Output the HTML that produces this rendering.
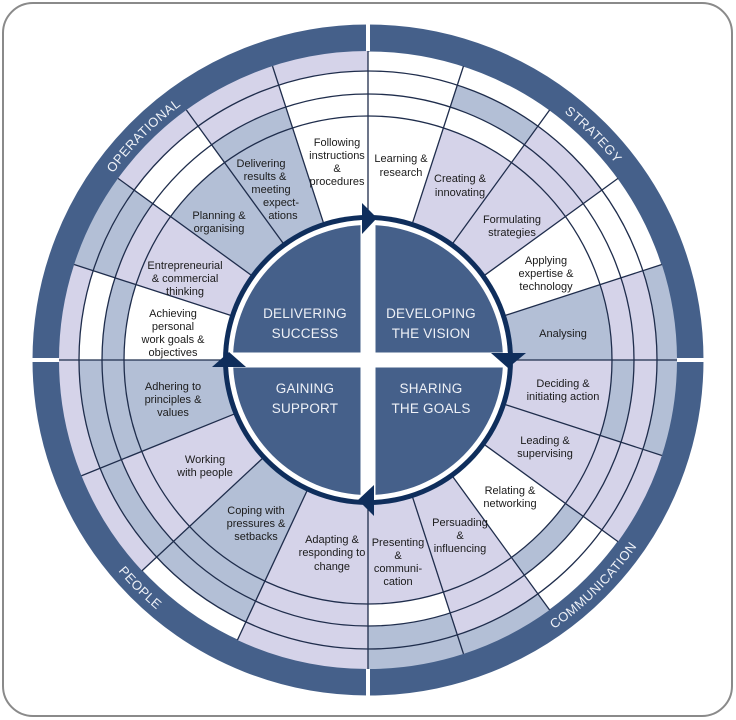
<!DOCTYPE html>
<html><head><meta charset="utf-8"><style>
html,body{margin:0;padding:0;background:#fff;}
svg{display:block;}
.t{font-family:"Liberation Sans",sans-serif;font-size:11px;fill:#1b1b1b;text-anchor:middle;}
.q{font-family:"Liberation Sans",sans-serif;font-size:13.5px;fill:#eef1f7;text-anchor:middle;letter-spacing:0.2px;}
.c{font-family:"Liberation Sans",sans-serif;font-size:13px;fill:#eef1f7;letter-spacing:0.5px;}
</style></head><body>
<svg width="736" height="720" viewBox="0 0 736 720" xmlns="http://www.w3.org/2000/svg">
<rect x="3" y="3" width="729" height="713" rx="30" fill="#fff" stroke="#8a8a8a" stroke-width="2"/>
<defs>
<path id="pOp" d="M62.8,278.2 A316,316 0 0 1 286.2,54.8"/>
<path id="pSt" d="M449.8,54.8 A316,316 0 0 1 673.2,278.2"/>
<path id="pPe" d="M52.1,444.7 A327,327 0 0 0 283.3,675.9"/>
<path id="pCo" d="M452.7,675.9 A327,327 0 0 0 683.9,444.7"/>
</defs>
<g transform="translate(368,360)" fill="none">
<circle r="322" stroke="#45608a" stroke-width="27"/>
<circle r="226" fill="#fff"/>
<g stroke-width="101">
<circle r="193.5" pathLength="360" stroke="#d5d3e9" stroke-dasharray="18 342" stroke-dashoffset="-288"/>
<circle r="193.5" pathLength="360" stroke="#d5d3e9" stroke-dasharray="18 342" stroke-dashoffset="-306"/>
<circle r="193.5" pathLength="360" stroke="#b3bfd6" stroke-dasharray="18 342" stroke-dashoffset="-342"/>
<circle r="193.5" pathLength="360" stroke="#d5d3e9" stroke-dasharray="36 324" stroke-dashoffset="0"/>
<circle r="193.5" pathLength="360" stroke="#d5d3e9" stroke-dasharray="61 299" stroke-dashoffset="-54"/>
<circle r="193.5" pathLength="360" stroke="#b3bfd6" stroke-dasharray="22 338" stroke-dashoffset="-115"/>
<circle r="193.5" pathLength="360" stroke="#d5d3e9" stroke-dasharray="21 339" stroke-dashoffset="-137"/>
<circle r="193.5" pathLength="360" stroke="#b3bfd6" stroke-dasharray="22 338" stroke-dashoffset="-158"/>
<circle r="193.5" pathLength="360" stroke="#d5d3e9" stroke-dasharray="18 342" stroke-dashoffset="-198"/>
<circle r="193.5" pathLength="360" stroke="#b3bfd6" stroke-dasharray="36 324" stroke-dashoffset="-216"/>
</g>
<g stroke-width="22">
<circle r="255" pathLength="360" stroke="#d5d3e9" stroke-dasharray="18 342" stroke-dashoffset="-306"/>
<circle r="255" pathLength="360" stroke="#d5d3e9" stroke-dasharray="18 342" stroke-dashoffset="-342"/>
<circle r="255" pathLength="360" stroke="#b3bfd6" stroke-dasharray="18 342" stroke-dashoffset="0"/>
<circle r="255" pathLength="360" stroke="#d5d3e9" stroke-dasharray="18 342" stroke-dashoffset="-18"/>
<circle r="255" pathLength="360" stroke="#b3bfd6" stroke-dasharray="18 342" stroke-dashoffset="-36"/>
<circle r="255" pathLength="360" stroke="#d5d3e9" stroke-dasharray="18 342" stroke-dashoffset="-54"/>
<circle r="255" pathLength="360" stroke="#d5d3e9" stroke-dasharray="25 335" stroke-dashoffset="-90"/>
<circle r="255" pathLength="360" stroke="#b3bfd6" stroke-dasharray="22 338" stroke-dashoffset="-115"/>
<circle r="255" pathLength="360" stroke="#d5d3e9" stroke-dasharray="21 339" stroke-dashoffset="-137"/>
<circle r="255" pathLength="360" stroke="#b3bfd6" stroke-dasharray="40 320" stroke-dashoffset="-158"/>
<circle r="255" pathLength="360" stroke="#d5d3e9" stroke-dasharray="18 342" stroke-dashoffset="-198"/>
<circle r="255" pathLength="360" stroke="#b3bfd6" stroke-dasharray="18 342" stroke-dashoffset="-234"/>
</g>
<g stroke-width="23">
<circle r="277.5" pathLength="360" stroke="#b3bfd6" stroke-dasharray="18 342" stroke-dashoffset="-288"/>
<circle r="277.5" pathLength="360" stroke="#d5d3e9" stroke-dasharray="18 342" stroke-dashoffset="-306"/>
<circle r="277.5" pathLength="360" stroke="#d5d3e9" stroke-dasharray="54 306" stroke-dashoffset="-342"/>
<circle r="277.5" pathLength="360" stroke="#d5d3e9" stroke-dasharray="18 342" stroke-dashoffset="-54"/>
<circle r="277.5" pathLength="360" stroke="#b3bfd6" stroke-dasharray="18 342" stroke-dashoffset="-72"/>
<circle r="277.5" pathLength="360" stroke="#d5d3e9" stroke-dasharray="25 335" stroke-dashoffset="-90"/>
<circle r="277.5" pathLength="360" stroke="#b3bfd6" stroke-dasharray="65 295" stroke-dashoffset="-115"/>
<circle r="277.5" pathLength="360" stroke="#b3bfd6" stroke-dasharray="18 342" stroke-dashoffset="-198"/>
<circle r="277.5" pathLength="360" stroke="#d5d3e9" stroke-dasharray="18 342" stroke-dashoffset="-234"/>
</g>
<g stroke-width="20">
<circle r="299" pathLength="360" stroke="#b3bfd6" stroke-dasharray="18 342" stroke-dashoffset="-342"/>
<circle r="299" pathLength="360" stroke="#b3bfd6" stroke-dasharray="18 342" stroke-dashoffset="0"/>
<circle r="299" pathLength="360" stroke="#d5d3e9" stroke-dasharray="18 342" stroke-dashoffset="-18"/>
<circle r="299" pathLength="360" stroke="#b3bfd6" stroke-dasharray="36 324" stroke-dashoffset="-54"/>
<circle r="299" pathLength="360" stroke="#d5d3e9" stroke-dasharray="25 335" stroke-dashoffset="-90"/>
<circle r="299" pathLength="360" stroke="#d5d3e9" stroke-dasharray="61 299" stroke-dashoffset="-137"/>
<circle r="299" pathLength="360" stroke="#b3bfd6" stroke-dasharray="18 342" stroke-dashoffset="-198"/>
<circle r="299" pathLength="360" stroke="#d5d3e9" stroke-dasharray="54 306" stroke-dashoffset="-216"/>
</g>
<g stroke="#1f2d4c" stroke-width="1.3">
<circle r="244"/><circle r="266"/><circle r="289"/>
</g>
<g stroke="#1f2d4c" stroke-width="1.3">
<line x1="140" x2="309" transform="rotate(0)"/>
<line x1="140" x2="309" transform="rotate(18)"/>
<line x1="140" x2="309" transform="rotate(36)"/>
<line x1="140" x2="309" transform="rotate(54)"/>
<line x1="140" x2="309" transform="rotate(72)"/>
<line x1="140" x2="309" transform="rotate(90)"/>
<line x1="140" x2="309" transform="rotate(115)"/>
<line x1="140" x2="309" transform="rotate(137)"/>
<line x1="140" x2="309" transform="rotate(158)"/>
<line x1="140" x2="309" transform="rotate(180)"/>
<line x1="140" x2="309" transform="rotate(198)"/>
<line x1="140" x2="309" transform="rotate(216)"/>
<line x1="140" x2="309" transform="rotate(234)"/>
<line x1="140" x2="309" transform="rotate(252)"/>
<line x1="140" x2="309" transform="rotate(270)"/>
<line x1="140" x2="309" transform="rotate(288)"/>
<line x1="140" x2="309" transform="rotate(306)"/>
<line x1="140" x2="309" transform="rotate(324)"/>
<line x1="140" x2="309" transform="rotate(342)"/>
</g>
<g stroke="#fff" stroke-width="4">
<line x1="309" x2="337"/><line x1="-309" x2="-337"/>
<line y1="309" y2="337"/><line y1="-309" y2="-337"/>
</g>
<circle r="145" fill="#0f2e5c"/>
<circle r="140" fill="#fff"/>
<circle r="135" fill="#45608a"/>
<rect x="-7.5" y="-140" width="15" height="280" fill="#fff"/>
<rect x="-140" y="-7.5" width="280" height="15" fill="#fff"/>
</g>
<g fill="#0f2e5c">
<polygon points="362,203 377,218 362,234"/>
<polygon points="491,353 526,353 508,368"/>
<polygon points="374,485 358,500 374,516"/>
<polygon points="212,367 246,367 229,352"/>
</g>
<text class="q" x="305" y="318">DELIVERING</text>
<text class="q" x="305" y="338">SUCCESS</text>
<text class="q" x="431" y="318">DEVELOPING</text>
<text class="q" x="431" y="338">THE VISION</text>
<text class="q" x="305" y="393">GAINING</text>
<text class="q" x="305" y="413">SUPPORT</text>
<text class="q" x="431" y="393">SHARING</text>
<text class="q" x="431" y="413">THE GOALS</text>
<text class="c"><textPath href="#pOp" startOffset="50%" text-anchor="middle">OPERATIONAL</textPath></text>
<text class="c"><textPath href="#pSt" startOffset="50%" text-anchor="middle">STRATEGY</textPath></text>
<text class="c"><textPath href="#pPe" startOffset="50%" text-anchor="middle">PEOPLE</textPath></text>
<text class="c"><textPath href="#pCo" startOffset="50%" text-anchor="middle">COMMUNICATION</textPath></text>
<g class="t">
<text x="337" y="146">Following</text><text x="337" y="159">instructions</text><text x="337" y="172">&amp;</text><text x="337" y="185">procedures</text>
<text x="401" y="162">Learning &amp;</text><text x="401" y="176">research</text>
<text x="460" y="182">Creating &amp;</text><text x="460" y="196">innovating</text>
<text x="512" y="223">Formulating</text><text x="512" y="236">strategies</text>
<text x="546" y="264">Applying</text><text x="546" y="277">expertise &amp;</text><text x="546" y="290">technology</text>
<text x="563" y="337">Analysing</text>
<text x="563" y="387">Deciding &amp;</text><text x="563" y="400">initiating action</text>
<text x="545" y="444">Leading &amp;</text><text x="545" y="457">supervising</text>
<text x="510" y="494">Relating &amp;</text><text x="510" y="507">networking</text>
<text x="460" y="526">Persuading</text><text x="460" y="539">&amp;</text><text x="460" y="552">influencing</text>
<text x="398" y="546">Presenting</text><text x="398" y="559">&amp;</text><text x="398" y="572">communi-</text><text x="398" y="585">cation</text>
<text x="332" y="543">Adapting &amp;</text><text x="332" y="556">responding to</text><text x="332" y="570">change</text>
<text x="256" y="514">Coping with</text><text x="256" y="527">pressures &amp;</text><text x="256" y="540">setbacks</text>
<text x="205" y="463">Working</text><text x="205" y="476">with people</text>
<text x="173" y="390">Adhering to</text><text x="173" y="403">principles &amp;</text><text x="173" y="416">values</text>
<text x="173" y="317">Achieving</text><text x="173" y="330">personal</text><text x="173" y="343">work goals &amp;</text><text x="173" y="356">objectives</text>
<text x="185" y="269">Entrepreneurial</text><text x="185" y="282">&amp; commercial</text><text x="185" y="295">thinking</text>
<text x="219" y="219">Planning &amp;</text><text x="219" y="232">organising</text>
<text x="261" y="167">Delivering</text><text x="265" y="180">results &amp;</text><text x="271" y="193">meeting</text><text x="281" y="206">expect-</text><text x="283" y="219">ations</text>
</g>
</svg>
</body></html>
